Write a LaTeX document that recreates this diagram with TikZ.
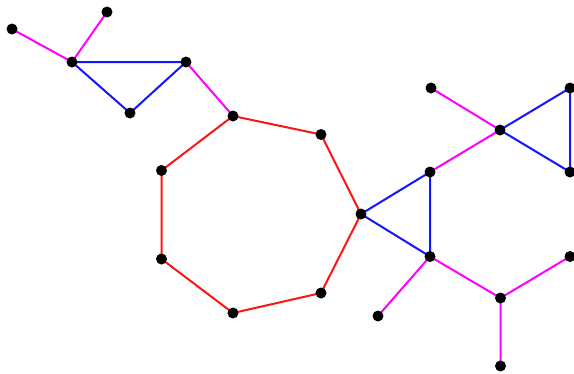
\documentclass[tikz,border=0pt]{standalone}
\begin{document}
\begin{tikzpicture}[x=1pt,y=-1pt,
  dot/.style={circle,fill=black,inner sep=0pt,minimum size=11pt},
  mag/.style={draw={rgb,255:red,255;green,0;blue,255},line width=2pt},
  blu/.style={draw={rgb,255:red,20;green,20;blue,255},line width=2pt},
  rd/.style={draw={rgb,255:red,255;green,20;blue,20},line width=2pt}]
\useasboundingbox (0,0) rectangle (574,373);
\coordinate (a) at (12,29);
\coordinate (b) at (107,12);
\coordinate (c) at (72,62);
\coordinate (d) at (186,62);
\coordinate (e) at (130,113);
\coordinate (f) at (233,116);
\coordinate (g) at (321,134.5);
\coordinate (h) at (361,214);
\coordinate (i) at (321,293);
\coordinate (j) at (233,313);
\coordinate (k) at (161.5,259);
\coordinate (l) at (161.5,170.5);
\coordinate (m) at (430,172);
\coordinate (n) at (430,256.5);
\coordinate (o) at (500,130);
\coordinate (p) at (431,88);
\coordinate (q) at (570,88);
\coordinate (r) at (570,172);
\coordinate (s) at (570,256.5);
\coordinate (t) at (500.5,298);
\coordinate (u) at (378,316);
\coordinate (v) at (500.5,366);
\path[mag] (a)--(c) (b)--(c) (d)--(f) (p)--(o) (m)--(o) (n)--(u) (n)--(t) (t)--(s) (t)--(v);
\path[blu] (c)--(d) (c)--(e) (e)--(d) (o)--(q) (q)--(r) (r)--(o) (h)--(m) (m)--(n) (n)--(h);
\path[rd] (f)--(g) (g)--(h) (h)--(i) (i)--(j) (j)--(k) (k)--(l) (l)--(f);
\foreach \x in {a,b,c,d,e,f,g,h,i,j,k,l,m,n,o,p,q,r,s,t,u,v}
  \node[dot] (N\x) at (\x) {};
\end{tikzpicture}
\end{document}
